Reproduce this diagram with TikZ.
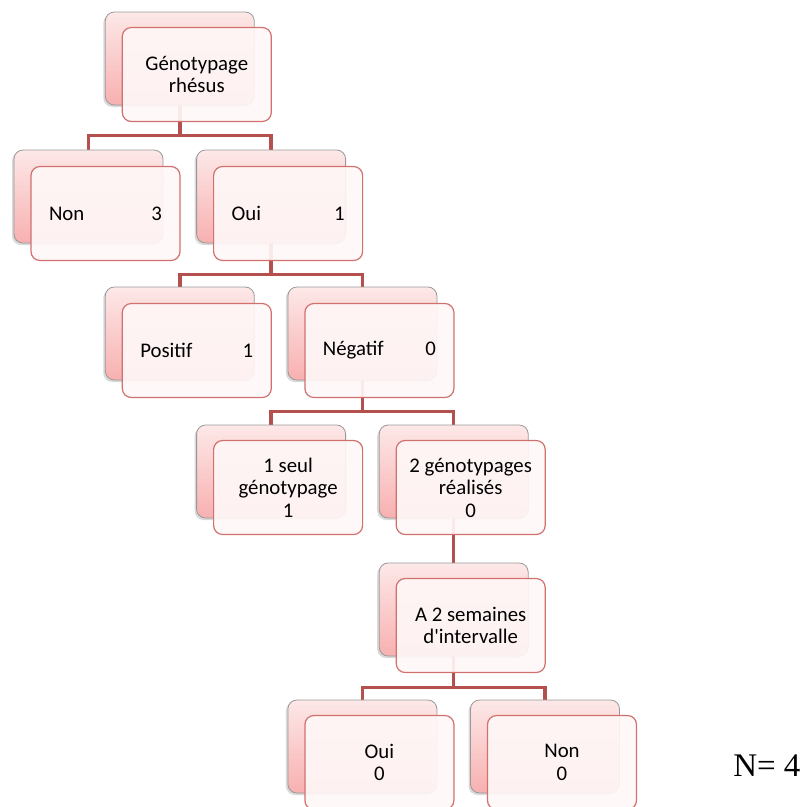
\documentclass[tikz,border=0pt]{standalone}
\usepackage{fontspec}
\setmainfont{Carlito}
\newfontfamily\serifN{Liberation Serif}
\usetikzlibrary{shadows}
\usetikzlibrary{calc,positioning,backgrounds}

\definecolor{linkred}{HTML}{B4504E}
\definecolor{backtop}{HTML}{FDE8E8}
\definecolor{backbot}{HTML}{F8B0B0}
\definecolor{frontdraw}{HTML}{D0716E}
\definecolor{frontfill}{HTML}{FFF7F7}

\tikzset{
  back/.style={draw=gray!80, line width=.8pt, rounded corners=9pt,
    minimum width=149pt, minimum height=93pt,
    top color=backtop, bottom color=backbot,
    drop shadow={shadow xshift=-2pt, shadow yshift=-2pt, opacity=.3}},
  front/.style={draw=frontdraw, line width=1.2pt, rounded corners=9pt,
    minimum width=149pt, minimum height=94pt,
    fill=frontfill, fill opacity=.92, text opacity=1, align=center,
    font=\fontsize{20.8}{22.5}\selectfont},
  tabfront/.style={front, text width=113pt, inner sep=0pt, align=left},
  link/.style={draw=linkred, line width=3.4pt},
}

\begin{document}
\begin{tikzpicture}[x=1pt, y=-1pt]

    \useasboundingbox (0,0) rectangle (805,807);
    \clip (0,0) rectangle (805,807);

    % back cards
    \node[back] (rootb) at (179.8,58.5)  {};
    \node[back] (nonb)  at (88.5,196.5)  {};
    \node[back] (ouib)  at (271.1,196.5) {};
    \node[back] (posb)  at (179.8,333.5) {};
    \node[back] (negb)  at (362.4,333.5) {};
    \node[back] (seulb) at (271.1,471.5) {};
    \node[back] (deuxb) at (453.7,471.5) {};
    \node[back] (semb)  at (453.7,609.5) {};
    \node[back] (ouiib) at (362.4,746.5) {};
    \node[back] (noniib) at (545,746.5)  {};

    % front cards
    \node[front] (root) at ([shift={(17,16)}]rootb.center) {Génotypage\\rhésus};
    \node[tabfront] (non) at ([shift={(17,17)}]nonb.center) {Non\hfill 3};
    \node[tabfront] (oui) at ([shift={(17,17)}]ouib.center) {Oui\hfill 1};
    \node[tabfront] (pos) at ([shift={(17,17)}]posb.center) {Positif\hfill 1};
    \node[tabfront] (neg) at ([shift={(17,17)}]negb.center) {Négatif\hfill 0};
    \node[front] (seul) at ([shift={(17,16)}]seulb.center) {1 seul\\génotypage\\1};
    \node[front] (deux) at ([shift={(17,16)}]deuxb.center) {2 génotypages\\réalisés\\0};
    \node[front] (sem) at ([shift={(17,16)}]semb.center) {A 2 semaines\\d\textquotesingle intervalle};
    \node[front] (ouii) at ([shift={(17,16)}]ouiib.center) {Oui\\0};
    \node[front] (nonii) at ([shift={(17,16)}]noniib.center) {Non\\0};

    % connectors
    \begin{scope}[on background layer]
      \draw[link] (rootb.south) -- ++(0,30) -| (nonb.north);
      \draw[link] (rootb.south) -- ++(0,30) -| (ouib.north);
      \draw[link] (ouib.south) -- ++(0,31) -| (posb.north);
      \draw[link] (ouib.south) -- ++(0,31) -| (negb.north);
      \draw[link] (negb.south) -- ++(0,31) -| (seulb.north);
      \draw[link] (negb.south) -- ++(0,31) -| (deuxb.north);
      \draw[link] (deuxb.south) -- (semb.north);
      \draw[link] (semb.south) -- ++(0,31) -| (ouiib.north);
      \draw[link] (semb.south) -- ++(0,31) -| (noniib.north);
    \end{scope}

    \node[font=\serifN\fontsize{33}{33}\selectfont, anchor=east] (total) at (804,766) {N= 4};

\end{tikzpicture}
\end{document}
